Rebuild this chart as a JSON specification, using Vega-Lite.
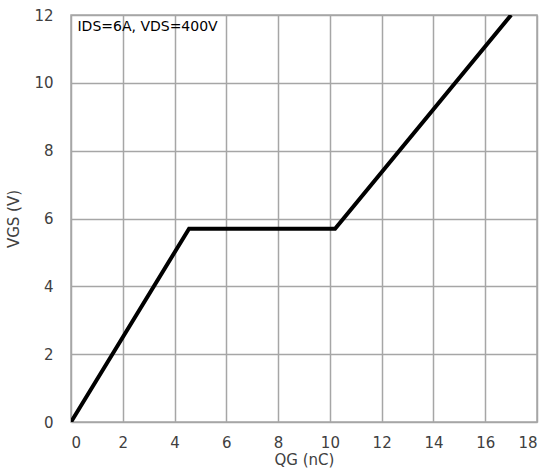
{
  "$schema": "https://vega.github.io/schema/vega-lite/v6.json",
  "width": 466,
  "height": 407,
  "autosize": {"type": "none"},
  "padding": {"left": 71, "top": 15, "right": 17, "bottom": 50},
  "background": "white",
  "config": {
    "font": "DejaVu Sans",
    "view": {"stroke": "#a6a6a6", "strokeWidth": 1.5},
    "axis": {
      "grid": true,
      "gridColor": "#a6a6a6",
      "gridWidth": 1.5,
      "domain": false,
      "ticks": false,
      "labelFont": "DejaVu Sans",
      "labelFontSize": 15,
      "labelColor": "#404040",
      "titleFont": "DejaVu Sans",
      "titleFontSize": 15,
      "titleFontWeight": "normal",
      "titleColor": "#404040"
    }
  },
  "layer": [
    {
      "data": {"values": [
        {"q": 0, "v": 0},
        {"q": 4.56, "v": 5.7},
        {"q": 10.2, "v": 5.7},
        {"q": 17.0, "v": 12}
      ]},
      "mark": {"type": "line", "color": "black", "strokeWidth": 4, "clip": true},
      "encoding": {
        "x": {"field": "q", "type": "quantitative", "scale": {"domain": [0, 18], "nice": false},
              "axis": {"values": [0,2,4,6,8,10,12,14,16,18], "title": "QG (nC)", "labelPadding": 13, "titlePadding": 2}},
        "y": {"field": "v", "type": "quantitative", "scale": {"domain": [0, 12], "nice": false},
              "axis": {"values": [0,2,4,6,8,10,12], "title": "VGS (V)", "labelPadding": 18, "titlePadding": 12}}
      }
    },
    {
      "data": {"values": [{"q": 0.25, "v": 11.85, "t": "IDS=6A, VDS=400V"}]},
      "mark": {"type": "text", "align": "left", "baseline": "top", "fontSize": 14, "color": "black", "font": "DejaVu Sans"},
      "encoding": {
        "x": {"field": "q", "type": "quantitative"},
        "y": {"field": "v", "type": "quantitative"},
        "text": {"field": "t"}
      }
    }
  ]
}
